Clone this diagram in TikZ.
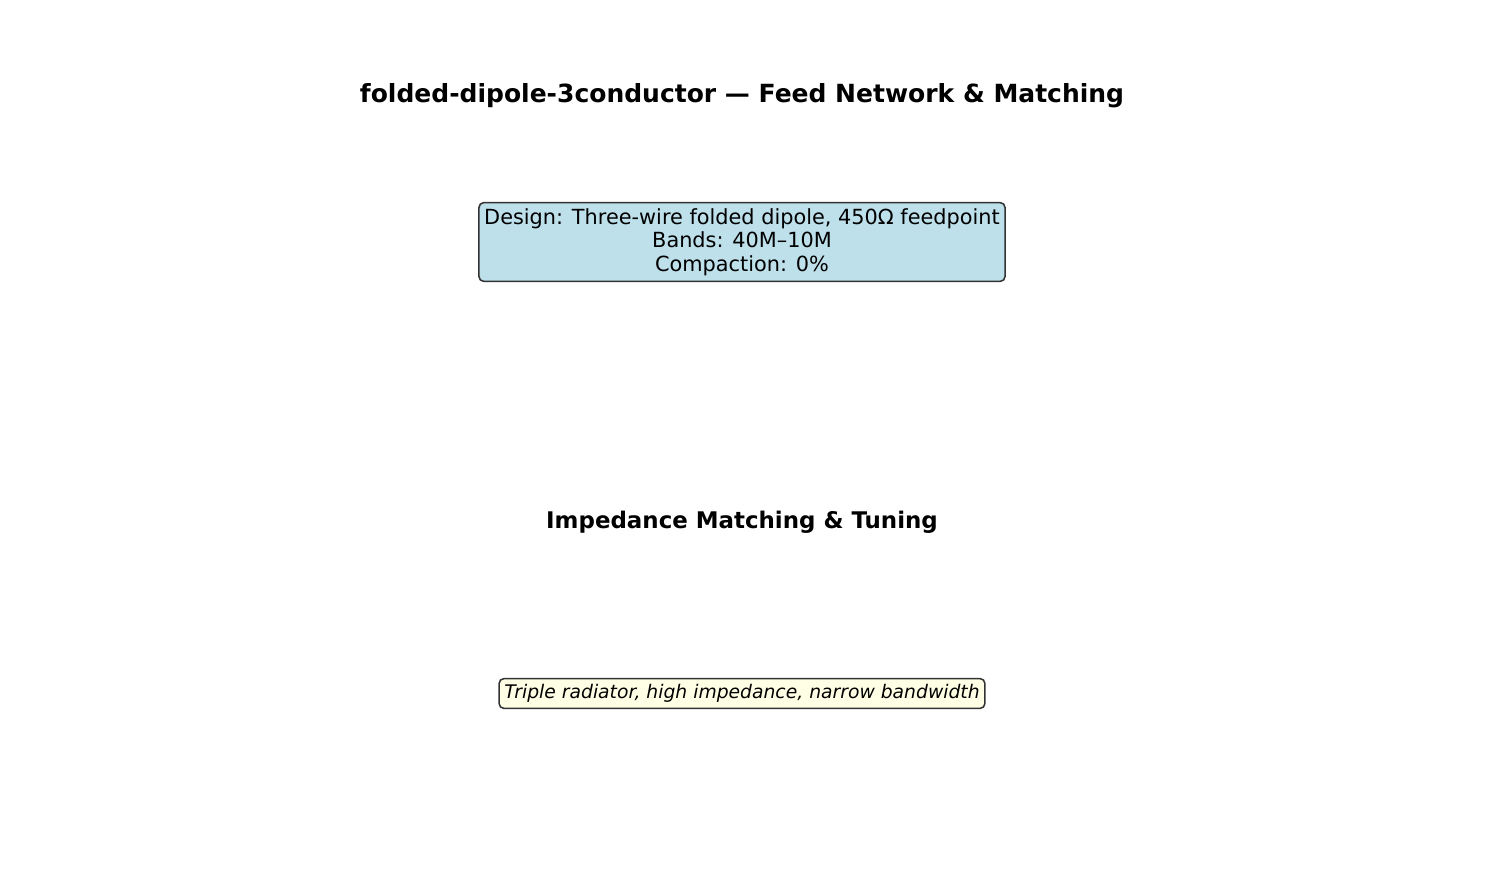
\documentclass[tikz,border=0pt]{standalone}
\usepackage{fontspec}
\setmainfont{DejaVu Sans}
\usepackage{tikz}
\definecolor{boxblue}{RGB}{189,224,235}
\definecolor{boxyellow}{RGB}{255,255,230}
\definecolor{edgegray}{RGB}{51,51,51}
\tikzset{infobox/.style = {draw=edgegray, line width=1.1pt, rounded corners=3.5pt,
                           align=center, inner xsep=3.8pt, inner ysep=4.2pt},
         heading/.style = {font=\bfseries\fontsize{18}{21}\selectfont}}

\begin{document}
\begin{tikzpicture}[x=0.72pt, y=-0.72pt]
    \useasboundingbox (0, 0) rectangle (1485, 885);

    \node [heading] (title) at (742, 95.5) {folded-dipole-3conductor — Feed Network \& Matching};
    \node [infobox, fill=boxblue, font=\fontsize{15}{16.9}\selectfont] (design) at (742, 242)
      {Design: Three-wire folded dipole, 450Ω feedpoint\\Bands: 40M–10M\\Compaction: 0\%};

    \node [heading, font=\bfseries\fontsize{16.5}{19}\selectfont] (tuning) at (742, 522) {Impedance Matching \& Tuning};
    \node [infobox, fill=boxyellow, font=\itshape\fontsize{13.5}{16}\selectfont] (note) at (742, 693.5)
      {Triple radiator, high impedance, narrow bandwidth};
  \end{tikzpicture}
\end{document}
